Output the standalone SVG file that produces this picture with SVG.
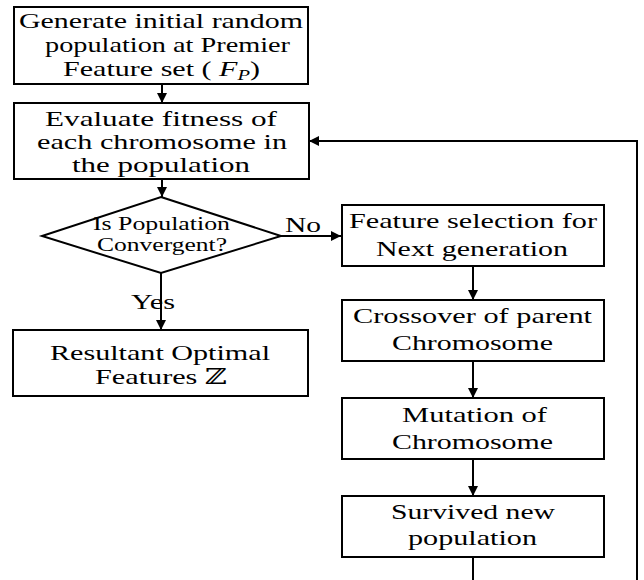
<svg xmlns="http://www.w3.org/2000/svg" width="644" height="580" viewBox="0 0 644 580">
<defs>
<marker id="ah" viewBox="0 0 10 10" refX="10" refY="5" markerWidth="10" markerHeight="10" markerUnits="userSpaceOnUse" orient="auto">
<path d="M0,0 L10,5 L0,10 z" fill="#000"/>
</marker>
<style>
.box{fill:#fff;stroke:#000;stroke-width:2}
.t{font-family:'Liberation Serif','Times New Roman',serif;font-size:22px;fill:#000}
.s{font-size:18px}
.z{font-family:'DejaVu Serif','Noto Sans',serif}
.c{fill:none;stroke:#000;stroke-width:2}
</style>
</defs>
<rect width="644" height="580" fill="#fff"/>
<g id="connectors">
<line class="c" x1="162" y1="84" x2="162" y2="103" marker-end="url(#ah)"/>
<line class="c" x1="162" y1="179" x2="162" y2="197" marker-end="url(#ah)"/>
<line class="c" x1="161" y1="273" x2="161" y2="330" marker-end="url(#ah)"/>
<line class="c" x1="281" y1="236" x2="341" y2="236" marker-end="url(#ah)"/>
<line class="c" x1="473" y1="266" x2="473" y2="300" marker-end="url(#ah)"/>
<line class="c" x1="473" y1="361" x2="473" y2="398" marker-end="url(#ah)"/>
<line class="c" x1="473" y1="459" x2="473" y2="496" marker-end="url(#ah)"/>
<line class="c" x1="473" y1="557" x2="473" y2="580"/>
<polyline class="c" points="637,580 637,141 309,141" marker-end="url(#ah)"/>
<text class="t" x="285" y="232" textLength="36" lengthAdjust="spacingAndGlyphs">No</text>
<text class="t" x="131" y="309" textLength="44" lengthAdjust="spacingAndGlyphs">Yes</text>
</g>
<g id="n1">
<rect class="box" x="14" y="7" width="294" height="77"/>
<text class="t" x="19" y="28" textLength="284" lengthAdjust="spacingAndGlyphs">Generate initial random</text>
<text class="t" x="45" y="52" textLength="245" lengthAdjust="spacingAndGlyphs">population at Premier</text>
<text class="t" x="63" y="76" textLength="197" lengthAdjust="spacingAndGlyphs">Feature set ( <tspan font-style="italic">F</tspan><tspan font-style="italic" font-size="15" dy="4">P</tspan><tspan dy="-4">)</tspan></text>
</g>
<g id="n2">
<rect class="box" x="14" y="103" width="295" height="76"/>
<text class="t" x="45" y="126" textLength="232" lengthAdjust="spacingAndGlyphs">Evaluate fitness of</text>
<text class="t" x="37" y="149" textLength="250" lengthAdjust="spacingAndGlyphs">each chromosome in</text>
<text class="t" x="72" y="172" textLength="178" lengthAdjust="spacingAndGlyphs">the  population</text>
</g>
<g id="n3">
<polygon class="box" points="161,197 281,236 161,273 42,236"/>
<text class="t s" x="93" y="230" textLength="137" lengthAdjust="spacingAndGlyphs">Is Population</text>
<text class="t s" x="97" y="251" textLength="130" lengthAdjust="spacingAndGlyphs">Convergent?</text>
</g>
<g id="n4">
<rect class="box" x="13" y="330" width="295" height="66"/>
<text class="t" x="50" y="360" textLength="220" lengthAdjust="spacingAndGlyphs">Resultant Optimal</text>
<text class="t" x="95" y="384" textLength="132" lengthAdjust="spacingAndGlyphs">Features  <tspan class="z">ℤ</tspan></text>
</g>
<g id="n5">
<rect class="box" x="342" y="205" width="262" height="61"/>
<text class="t" x="349" y="228" textLength="248" lengthAdjust="spacingAndGlyphs">Feature selection for</text>
<text class="t" x="376" y="256" textLength="192" lengthAdjust="spacingAndGlyphs">Next generation</text>
</g>
<g id="n6">
<rect class="box" x="342" y="300" width="262" height="61"/>
<text class="t" x="353" y="323" textLength="239" lengthAdjust="spacingAndGlyphs">Crossover of parent</text>
<text class="t" x="392" y="350" textLength="161" lengthAdjust="spacingAndGlyphs">Chromosome</text>
</g>
<g id="n7">
<rect class="box" x="342" y="398" width="262" height="61"/>
<text class="t" x="402" y="422" textLength="145" lengthAdjust="spacingAndGlyphs">Mutation of</text>
<text class="t" x="392" y="449" textLength="161" lengthAdjust="spacingAndGlyphs">Chromosome</text>
</g>
<g id="n8">
<rect class="box" x="342" y="496" width="262" height="61"/>
<text class="t" x="391" y="519" textLength="164" lengthAdjust="spacingAndGlyphs">Survived new</text>
<text class="t" x="408" y="545" textLength="129" lengthAdjust="spacingAndGlyphs">population</text>
</g>
</svg>
